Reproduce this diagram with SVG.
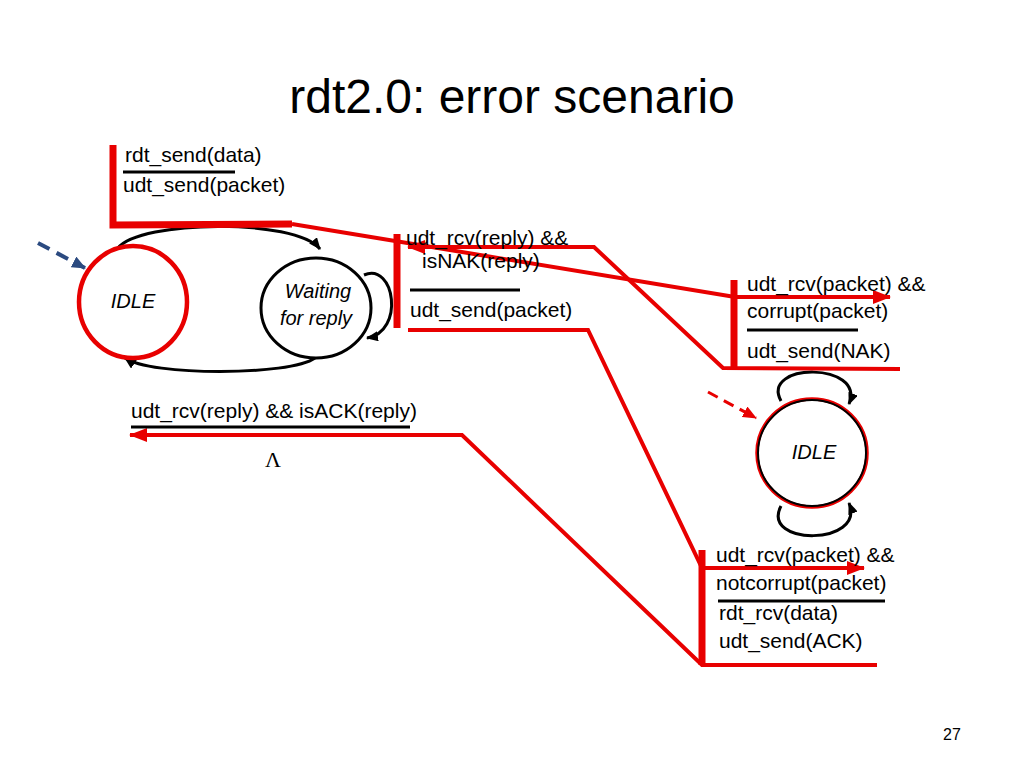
<svg xmlns="http://www.w3.org/2000/svg" width="1024" height="768" viewBox="0 0 1024 768">
<defs>
<marker id="ar" markerUnits="userSpaceOnUse" markerWidth="18" markerHeight="14" refX="17" refY="7" orient="auto"><path d="M0,0 L18,7 L0,14 z" fill="#e80000"/></marker>
<marker id="ab" markerUnits="userSpaceOnUse" markerWidth="12" markerHeight="10" refX="11" refY="5" orient="auto"><path d="M0,0 L12,5 L0,10 z" fill="#000"/></marker>
<marker id="abl" markerUnits="userSpaceOnUse" markerWidth="14" markerHeight="12" refX="13" refY="6" orient="auto"><path d="M0,0 L14,6 L0,12 z" fill="#2b4a80"/></marker>
<marker id="ard" markerUnits="userSpaceOnUse" markerWidth="14" markerHeight="12" refX="13" refY="6" orient="auto"><path d="M0,0 L14,6 L0,12 z" fill="#e80000"/></marker>
</defs>
<style>
text{font-family:"Liberation Sans",Arial,sans-serif;fill:#000}
.t{font-size:21px}
.s{font-size:20px;font-style:italic}
.bar{stroke:#e80000;stroke-width:7;fill:none}
.rl{stroke:#e80000;stroke-width:4;fill:none}
.bl{stroke:#000;stroke-width:3;fill:none}
.ul{stroke:#000;stroke-width:3}
</style>
<rect width="1024" height="768" fill="#fff"/>
<text x="512" y="113" text-anchor="middle" style="font-size:48px">rdt2.0: error scenario</text>

<g id="connectors">
<path class="bl" d="M118,248 C140,220 295,218 320,249" marker-end="url(#ab)"/>
<path class="bl" d="M315,358 C290,376 150,376 125,358" marker-end="url(#ab)"/>
<path class="bl" d="M364,275 C395,262 405,332 367,338" marker-end="url(#ab)"/>
<path class="bl" d="M781,401 C760,362 866,362 849,404" marker-end="url(#ab)"/>
<path class="bl" d="M781,506 C760,546 866,546 849,503" marker-end="url(#ab)"/>
<path d="M38,243 L85,268" stroke="#2b4a80" stroke-width="4" stroke-dasharray="13,8" fill="none" marker-end="url(#abl)"/>
<path d="M708,392 L756,418" stroke="#e80000" stroke-width="3" stroke-dasharray="11,7" fill="none" marker-end="url(#ard)"/>
</g>

<g id="trace">
<path class="bar" d="M113,145 L113,225 L292,224"/>
<path class="rl" d="M292,224 L735,297 L890,297" marker-end="url(#ar)"/>
<path class="bar" d="M734,280 L734,368"/>
<path class="rl" d="M900,369 L723,368 L594,247 L408,247" marker-end="url(#ar)"/>
<path class="bar" d="M397,234 L397,328"/>
<path class="rl" d="M408,330 L588,330 L702,568 L864,568" marker-end="url(#ar)"/>
<path class="bar" d="M702,550 L702,665"/>
<path class="rl" d="M877,665 L702,665 L462,435 L130,435" marker-end="url(#ar)"/>
</g>

<g id="idle-sender">
<ellipse cx="133" cy="302" rx="54" ry="56" fill="#fff" stroke="#e80000" stroke-width="4.5"/>
<text class="s" x="133" y="308" text-anchor="middle">IDLE</text>
</g>
<g id="waiting">
<ellipse cx="316" cy="308" rx="55" ry="50" fill="#fff" stroke="#000" stroke-width="3"/>
<text class="s" x="318" y="298" text-anchor="middle">Waiting</text>
<text class="s" x="316" y="325" text-anchor="middle">for reply</text>
</g>
<g id="idle-receiver">
<ellipse cx="812" cy="453" rx="55" ry="54" fill="#fff" stroke="#e80000" stroke-width="3.5"/>
<ellipse cx="812" cy="453" rx="54" ry="53" fill="none" stroke="#000" stroke-width="2"/>
<text class="s" x="814" y="459" text-anchor="middle">IDLE</text>
</g>

<g id="labels">
<text class="t" x="125" y="162">rdt_send(data)</text>
<line class="ul" x1="123" y1="172" x2="235" y2="172"/>
<text class="t" x="123" y="192">udt_send(packet)</text>

<text class="t" x="406" y="245">udt_rcv(reply) &amp;&amp;</text>
<text class="t" x="422" y="268">isNAK(reply)</text>
<line class="ul" x1="410" y1="290" x2="520" y2="290"/>
<text class="t" x="410" y="317">udt_send(packet)</text>

<text class="t" x="747" y="291">udt_rcv(packet) &amp;&amp;</text>
<text class="t" x="747" y="318">corrupt(packet)</text>
<line class="ul" x1="747" y1="330" x2="858" y2="330"/>
<text class="t" x="747" y="358">udt_send(NAK)</text>

<text class="t" x="716" y="562">udt_rcv(packet) &amp;&amp;</text>
<text class="t" x="716" y="590">notcorrupt(packet)</text>
<line class="ul" x1="718" y1="601" x2="885" y2="601"/>
<text class="t" x="719" y="620">rdt_rcv(data)</text>
<text class="t" x="719" y="648">udt_send(ACK)</text>

<text class="t" x="131" y="418">udt_rcv(reply) &amp;&amp; isACK(reply)</text>
<line class="ul" x1="131" y1="427" x2="410" y2="427"/>
<text x="273" y="467" text-anchor="middle" style="font-family:'Liberation Serif',serif;font-size:22px">Λ</text>

<text x="952" y="740" text-anchor="middle" style="font-size:16px">27</text>
</g>
</svg>
